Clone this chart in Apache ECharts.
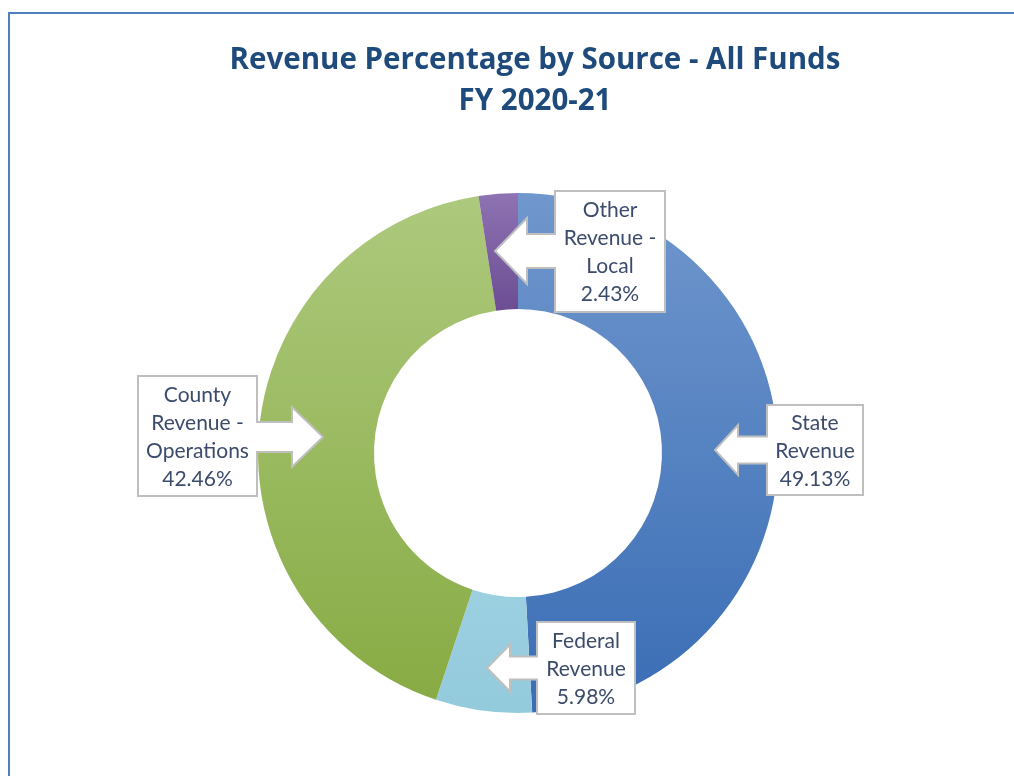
<!DOCTYPE html>
<html>
<head>
    <meta charset="utf-8">
    <title>Revenue Percentage by Source</title>
    <script src="https://cdn.jsdelivr.net/npm/echarts@6/dist/echarts.min.js"></script>
    <style>
        html, body { margin: 0; padding: 0; background: #fff; overflow: hidden; }
    </style>
</head>
<body>
    <div id="chart" style="width:1014px;height:776px;"></div>
    <script>
        // data, clockwise from 12 o'clock
        var sources = ['State\nRevenue', 'Federal\nRevenue', 'County\nRevenue -\nOperations', 'Other\nRevenue -\nLocal'];
        var percents = [49.13, 5.98, 42.46, 2.43];

        var colors = [
            ['#7097cd', '#3a6db5'],
            ['#9bd0e1', '#93cadc'],
            ['#adc97d', '#88ab44'],
            ['#8e73b2', '#6c4d94']
        ];

        // callout boxes: [left, top, right, bottom], arrow tip, head back x, head half, shaft half
        var callouts = [
            { box: [767, 405, 863, 495], tip: [715, 450], back: 738, head: 25, shaft: 13.5 },
            { box: [537, 622, 635, 714], tip: [487, 668], back: 510, head: 23.5, shaft: 11.5 },
            { box: [138, 376, 257, 496], tip: [323, 437], back: 292, head: 30, shaft: 15 },
            { box: [555, 191, 665, 312], tip: [495, 251], back: 527, head: 33, shaft: 17 }
        ];

        function calloutPoints(c) {
            var l = c.box[0], t = c.box[1], r = c.box[2], b = c.box[3];
            var tx = c.tip[0], ty = c.tip[1];
            if (tx < l) {
                return [[l, t], [r, t], [r, b], [l, b],
                    [l, ty + c.shaft], [c.back, ty + c.shaft], [c.back, ty + c.head], [tx, ty],
                    [c.back, ty - c.head], [c.back, ty - c.shaft], [l, ty - c.shaft]];
            }
            return [[l, t], [r, t], [r, ty - c.shaft], [c.back, ty - c.shaft], [c.back, ty - c.head],
                [tx, ty], [c.back, ty + c.head], [c.back, ty + c.shaft], [r, ty + c.shaft],
                [r, b], [l, b]];
        }

        var pieData = sources.map(function (name, i) {
            return {
                name: name,
                value: percents[i],
                itemStyle: {
                    color: new echarts.graphic.LinearGradient(0, 0, 0, 1, [
                        { offset: 0, color: colors[i][0] },
                        { offset: 1, color: colors[i][1] }
                    ])
                }
            };
        });

        var chart = echarts.init(document.getElementById('chart'));
        var option = {
            animation: false,
            title: {
                text: 'Revenue Percentage by Source - All Funds\nFY 2020-21',
                left: 530,
                top: 35,
                textAlign: 'center',
                textStyle: {
                    fontFamily: 'Open Sans',
                    fontWeight: 'bold',
                    fontSize: 29.5,
                    lineHeight: 41,
                    color: '#1f4a7c'
                }
            },
            graphic: [{
                type: 'rect',
                silent: true,
                shape: { x: 9, y: 13, width: 2000, height: 2000 },
                style: { fill: null, stroke: '#4f7fbf', lineWidth: 2 }
            }].concat(callouts.map(function (c) {
                return {
                    type: 'polygon',
                    silent: true,
                    z: 5,
                    shape: { points: calloutPoints(c) },
                    style: { fill: '#ffffff', stroke: '#bfbfbf', lineWidth: 2 }
                };
            })),
            series: [
                {
                    type: 'pie',
                    z: 1,
                    center: [518, 453],
                    radius: [144, 260],
                    startAngle: 90,
                    silent: true,
                    label: { show: false },
                    labelLine: { show: false },
                    data: pieData
                },
                {
                    type: 'pie',
                    z: 10,
                    center: [518, 453],
                    radius: [144, 260],
                    startAngle: 90,
                    silent: true,
                    itemStyle: { color: 'rgba(0,0,0,0)' },
                    labelLine: { show: false },
                    label: {
                        show: true,
                        position: 'inside',
                        fontFamily: 'Lato',
                        fontSize: 21,
                        lineHeight: 28,
                        color: '#3b4b6b',
                        formatter: function (p) {
                            return p.name + '\n' + p.value.toFixed(2) + '%';
                        }
                    },
                    labelLayout: function (p) {
                        var b = callouts[p.dataIndex].box;
                        return {
                            x: (b[0] + b[2]) / 2,
                            y: (b[1] + b[3]) / 2 + 1,
                            align: 'center',
                            verticalAlign: 'middle'
                        };
                    },
                    data: sources.map(function (name, i) {
                        return { name: name, value: percents[i] };
                    })
                }
            ]
        };
        chart.setOption(option);
    </script>
</body>
</html>
